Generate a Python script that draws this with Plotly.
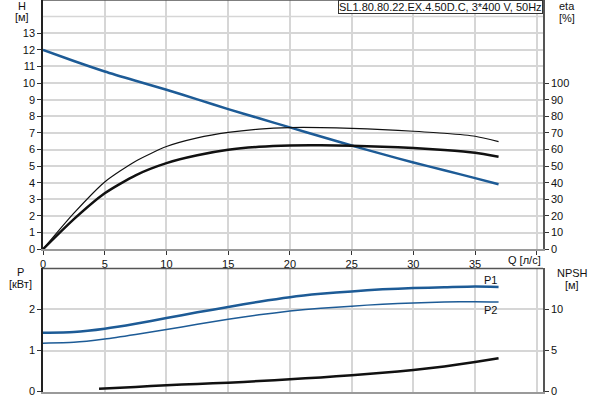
import plotly.graph_objects as go

# ---- data ----
q = [0, 2.5, 5, 7.5, 10, 12.5, 15, 17.5, 20, 22.5, 25, 27.5, 30, 32.5, 35, 36.9]
head = [12.0, 11.33, 10.7, 10.14, 9.6, 9.02, 8.43, 7.88, 7.33, 6.78, 6.24, 5.72, 5.22, 4.75, 4.28, 3.91]
eta_total = [0, 21.7, 40.5, 53.0, 61.8, 67.0, 70.3, 72.3, 73.2, 73.2, 72.7, 72.0, 71.0, 69.8, 68.0, 64.8]
eta_pump = [0, 18.1, 33.7, 44.5, 51.8, 56.5, 59.8, 61.6, 62.4, 62.5, 62.2, 61.7, 60.9, 59.7, 58.0, 55.6]
p1 = [1.43, 1.45, 1.53, 1.65, 1.79, 1.93, 2.06, 2.19, 2.30, 2.38, 2.44, 2.49, 2.52, 2.54, 2.56, 2.55]
p2 = [1.18, 1.20, 1.28, 1.39, 1.51, 1.64, 1.76, 1.87, 1.96, 2.03, 2.08, 2.13, 2.16, 2.18, 2.19, 2.18]
q_npsh = [4.54, 7.5, 10, 12.5, 15, 17.5, 20, 22.5, 25, 27.5, 30, 32.5, 35, 36.9]
npsh = [0.36, 0.57, 0.78, 0.93, 1.09, 1.28, 1.5, 1.73, 1.99, 2.28, 2.63, 3.07, 3.6, 4.05]

x_ticks = [0, 5, 10, 15, 20, 25, 30, 35, 40]
x_ticktext = ["0", "5", "10", "15", "20", "25", "30", "35", ""]
h_ticks = list(range(0, 14))
eta_ticks = list(range(0, 101, 10))
p_ticks = [0, 1, 2]
npsh_ticks = [0, 5, 10]

title_text = "SL1.80.80.22.EX.4.50D.C, 3*400 V, 50Hz"

BLUE = "#1d5b96"
GRID = "#d6d6d6"
FONT = dict(family="Liberation Sans, Arial, sans-serif", size=11, color="#111")

fig = go.Figure()
fig.add_trace(go.Scatter(x=q, y=head, mode="lines", line=dict(color=BLUE, width=2.5, shape="spline", smoothing=0.6),
                         xaxis="x", yaxis="y"))
fig.add_trace(go.Scatter(x=q, y=eta_total, mode="lines", line=dict(color="#111", width=1.2, shape="spline", smoothing=0.6),
                         xaxis="x", yaxis="y3"))
fig.add_trace(go.Scatter(x=q, y=eta_pump, mode="lines", line=dict(color="#111", width=2.5, shape="spline", smoothing=0.6),
                         xaxis="x", yaxis="y3"))
fig.add_trace(go.Scatter(x=q, y=p1, mode="lines", line=dict(color=BLUE, width=2.5, shape="spline", smoothing=0.6),
                         xaxis="x2", yaxis="y2"))
fig.add_trace(go.Scatter(x=q, y=p2, mode="lines", line=dict(color=BLUE, width=1.5, shape="spline", smoothing=0.6),
                         xaxis="x2", yaxis="y2"))
fig.add_trace(go.Scatter(x=q_npsh, y=npsh, mode="lines", line=dict(color="#111", width=2.5, shape="spline", smoothing=0.6),
                         xaxis="x2", yaxis="y4"))

axis_common = dict(showgrid=True, gridcolor=GRID, gridwidth=1.5, zeroline=False, automargin=False,
                   ticks="outside", ticklen=4, tickcolor="#333", tickfont=FONT)

fig.update_layout(
    width=600, height=400,
    margin=dict(l=43, r=57, t=0, b=0, autoexpand=False),
    paper_bgcolor="white", plot_bgcolor="white",
    showlegend=False,
    font=FONT,
    xaxis=dict(domain=[0, 1], range=[0, 40.5], tickvals=x_ticks, ticktext=x_ticktext,
               anchor="y", showline=True, linecolor="#9a9a9a", linewidth=2, mirror=False,
               **axis_common),
    yaxis=dict(domain=[0.377, 1.0], range=[0, 15], tickvals=h_ticks,
               showline=True, linecolor="#222", linewidth=1.5, anchor="x", **axis_common),
    yaxis3=dict(overlaying="y", side="right", range=[0, 150], tickvals=eta_ticks, anchor="x",
                showline=True, linecolor="#555", linewidth=1.5, showgrid=False, zeroline=False,
                automargin=False, ticks="outside", ticklen=4, tickcolor="#333", tickfont=FONT),
    xaxis2=dict(domain=[0, 1], range=[0, 40.5], tickvals=x_ticks, showticklabels=False,
                anchor="y2", showline=True, linecolor="#9a9a9a", linewidth=2, automargin=False,
                showgrid=True, gridcolor=GRID, gridwidth=1.5, zeroline=False, ticks=""),
    yaxis2=dict(domain=[0.021, 0.329], range=[0, 3], tickvals=p_ticks, anchor="x2",
                showline=True, linecolor="#222", linewidth=1.5, **axis_common),
    yaxis4=dict(overlaying="y2", side="right", range=[0, 15], tickvals=npsh_ticks, anchor="x2",
                showline=True, linecolor="#555", linewidth=1.5, showgrid=False, zeroline=False,
                automargin=False, ticks="outside", ticklen=4, tickcolor="#333", tickfont=FONT),
)

# extra gridline at H = 14, and top borders
fig.add_shape(type="line", xref="x domain", yref="y", x0=0, x1=1, y0=14, y1=14,
              line=dict(color=GRID, width=1.5), layer="below")
fig.add_shape(type="line", xref="x domain", yref="y domain", x0=0, x1=1, y0=1, y1=1,
              line=dict(color="#555", width=1.5))
fig.add_shape(type="line", xref="x2 domain", yref="y2 domain", x0=0, x1=1, y0=1, y1=1,
              line=dict(color="#555", width=1.5))

ann = []
def label(text, x, y, xanchor="center", yanchor="middle", **kw):
    ann.append(dict(text=text, xref="paper", yref="paper", x=x, y=y, xanchor=xanchor,
                    yanchor=yanchor, showarrow=False, font=FONT, **kw))

def px(xp, yp):
    # convert pixel coords to paper coords (plot area l=43, r=543, t=0, b=400)
    return (xp - 43) / 500.0, 1 - yp / 400.0

for t, (xp, yp) in [("H", (22, 6)), ("[м]", (22, 17)), ("eta", (567, 6)), ("[%]", (567, 18)),
                    ("P", (20, 272)), ("[кВт]", (20, 284)), ("NPSH", (572, 273)), ("[м]", (572, 285)),
                    ("P1", (490, 280)), ("P2", (490, 310)), ("Q [л/с]", (524, 260))]:
    xx, yy = px(xp, yp)
    label(t, xx, yy)

xx, yy = px(543, 0)
label(title_text, xx, yy, xanchor="right", yanchor="top", bgcolor="white",
      bordercolor="#333", borderwidth=1, borderpad=0)

fig.update_layout(annotations=ann)
fig.write_html("out.html", config={"displayModeBar": False},
               post_script="document.body.style.margin='0';document.body.style.overflow='hidden';")
